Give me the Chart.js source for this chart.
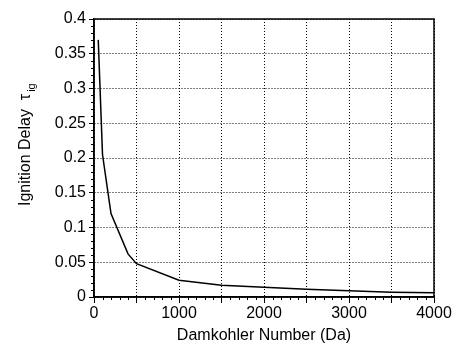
<!DOCTYPE html>
<html>
<head>
<meta charset="utf-8">
<script src="https://cdn.jsdelivr.net/npm/chart.js@4"></script>
<style>
  html, body { margin: 0; padding: 0; background: #fff; }
  #wrap { width: 456px; height: 347px; }
</style>
</head>
<body>
<div id="wrap"><canvas id="chart" width="456" height="347"></canvas></div>
<script>
// Damkohler number vs ignition delay
const damkohler = [50, 100, 200, 400, 500, 1000, 1500, 2000, 2500, 3000, 3500, 4000];
const ignitionDelay = [0.37, 0.205, 0.12, 0.062, 0.048, 0.024, 0.017, 0.014, 0.011, 0.009, 0.007, 0.006];

const xTitle = "Damkohler Number (Da)";
const yTitle = "Ignition Delay  \u03C4";
const ySub = "ig";
const fontFamily = "Arial, 'Liberation Sans', sans-serif";

// axis titles, frame and minor ticks
const decorations = {
    id: "decorations",
    afterDraw(chart) {
        const ctx = chart.ctx;
        const a = chart.chartArea;
        const xs = chart.scales.x;
        const ys = chart.scales.y;
        ctx.save();
        ctx.strokeStyle = "#000";
        ctx.lineWidth = 1;
        ctx.setLineDash([]);
        // minor ticks
        ctx.beginPath();
        for (let v = 100; v < 4000; v += 100) {
            if (v % 500 === 0) continue;
            const px = Math.round(xs.getPixelForValue(v)) + 0.5;
            ctx.moveTo(px, a.bottom);
            ctx.lineTo(px, a.bottom + 3);
        }
        for (let i = 1; i < 40; i++) {
            if (i % 5 === 0) continue;
            const py = Math.round(ys.getPixelForValue(i / 100)) + 0.5;
            ctx.moveTo(a.left, py);
            ctx.lineTo(a.left - 3, py);
        }
        ctx.stroke();
        // frame
        ctx.lineWidth = 1.5;
        ctx.strokeRect(a.left, a.top, a.right - a.left, a.bottom - a.top);

        // x title
        ctx.fillStyle = "#000";
        ctx.font = "16px " + fontFamily;
        ctx.textAlign = "center";
        ctx.textBaseline = "alphabetic";
        ctx.fillText(xTitle, (a.left + a.right) / 2, 340);

        // y title, rotated, with subscript
        ctx.translate(30, 206);
        ctx.rotate(-Math.PI / 2);
        ctx.textAlign = "left";
        ctx.fillText(yTitle, 0, 0);
        const w = ctx.measureText(yTitle).width;
        ctx.font = "11px " + fontFamily;
        ctx.fillText(ySub, w + 2, 5);
        ctx.restore();
    }
};

new Chart(document.getElementById("chart"), {
    type: "line",
    data: {
        datasets: [{
            data: damkohler.map((x, i) => ({ x: x, y: ignitionDelay[i] })),
            borderColor: "#000",
            borderWidth: 1.5,
            pointRadius: 0,
            tension: 0,
            fill: false
        }]
    },
    options: {
        responsive: false,
        animation: false,
        layout: { padding: { top: 19, right: 22, left: 0, bottom: 0 } },
        plugins: { legend: { display: false }, tooltip: { enabled: false } },
        scales: {
            x: {
                type: "linear",
                min: 0,
                max: 4000,
                afterFit: s => { s.height = 50; },
                ticks: {
                    stepSize: 500,
                    autoSkip: false,
                    maxRotation: 0,
                    padding: 1,
                    color: "#000",
                    font: { size: 16, family: fontFamily },
                    callback: v => (v % 1000 === 0 ? String(v) : "")
                },
                grid: { color: "#000", lineWidth: 1, tickLength: 6, tickColor: "#000", tickWidth: 1 },
                border: { display: true, color: "#000", width: 1.5, dash: [1, 2] }
            },
            y: {
                min: 0,
                max: 0.4,
                afterFit: s => { s.width = 94; },
                ticks: {
                    stepSize: 0.05,
                    padding: 3,
                    color: "#000",
                    font: { size: 16, family: fontFamily },
                    callback: v => String(+v.toFixed(2))
                },
                grid: { color: "#000", lineWidth: 1, tickLength: 5, tickColor: "#000", tickWidth: 1 },
                border: { display: true, color: "#000", width: 1.5, dash: [1, 2] }
            }
        }
    },
    plugins: [decorations]
});
</script>
</body>
</html>
